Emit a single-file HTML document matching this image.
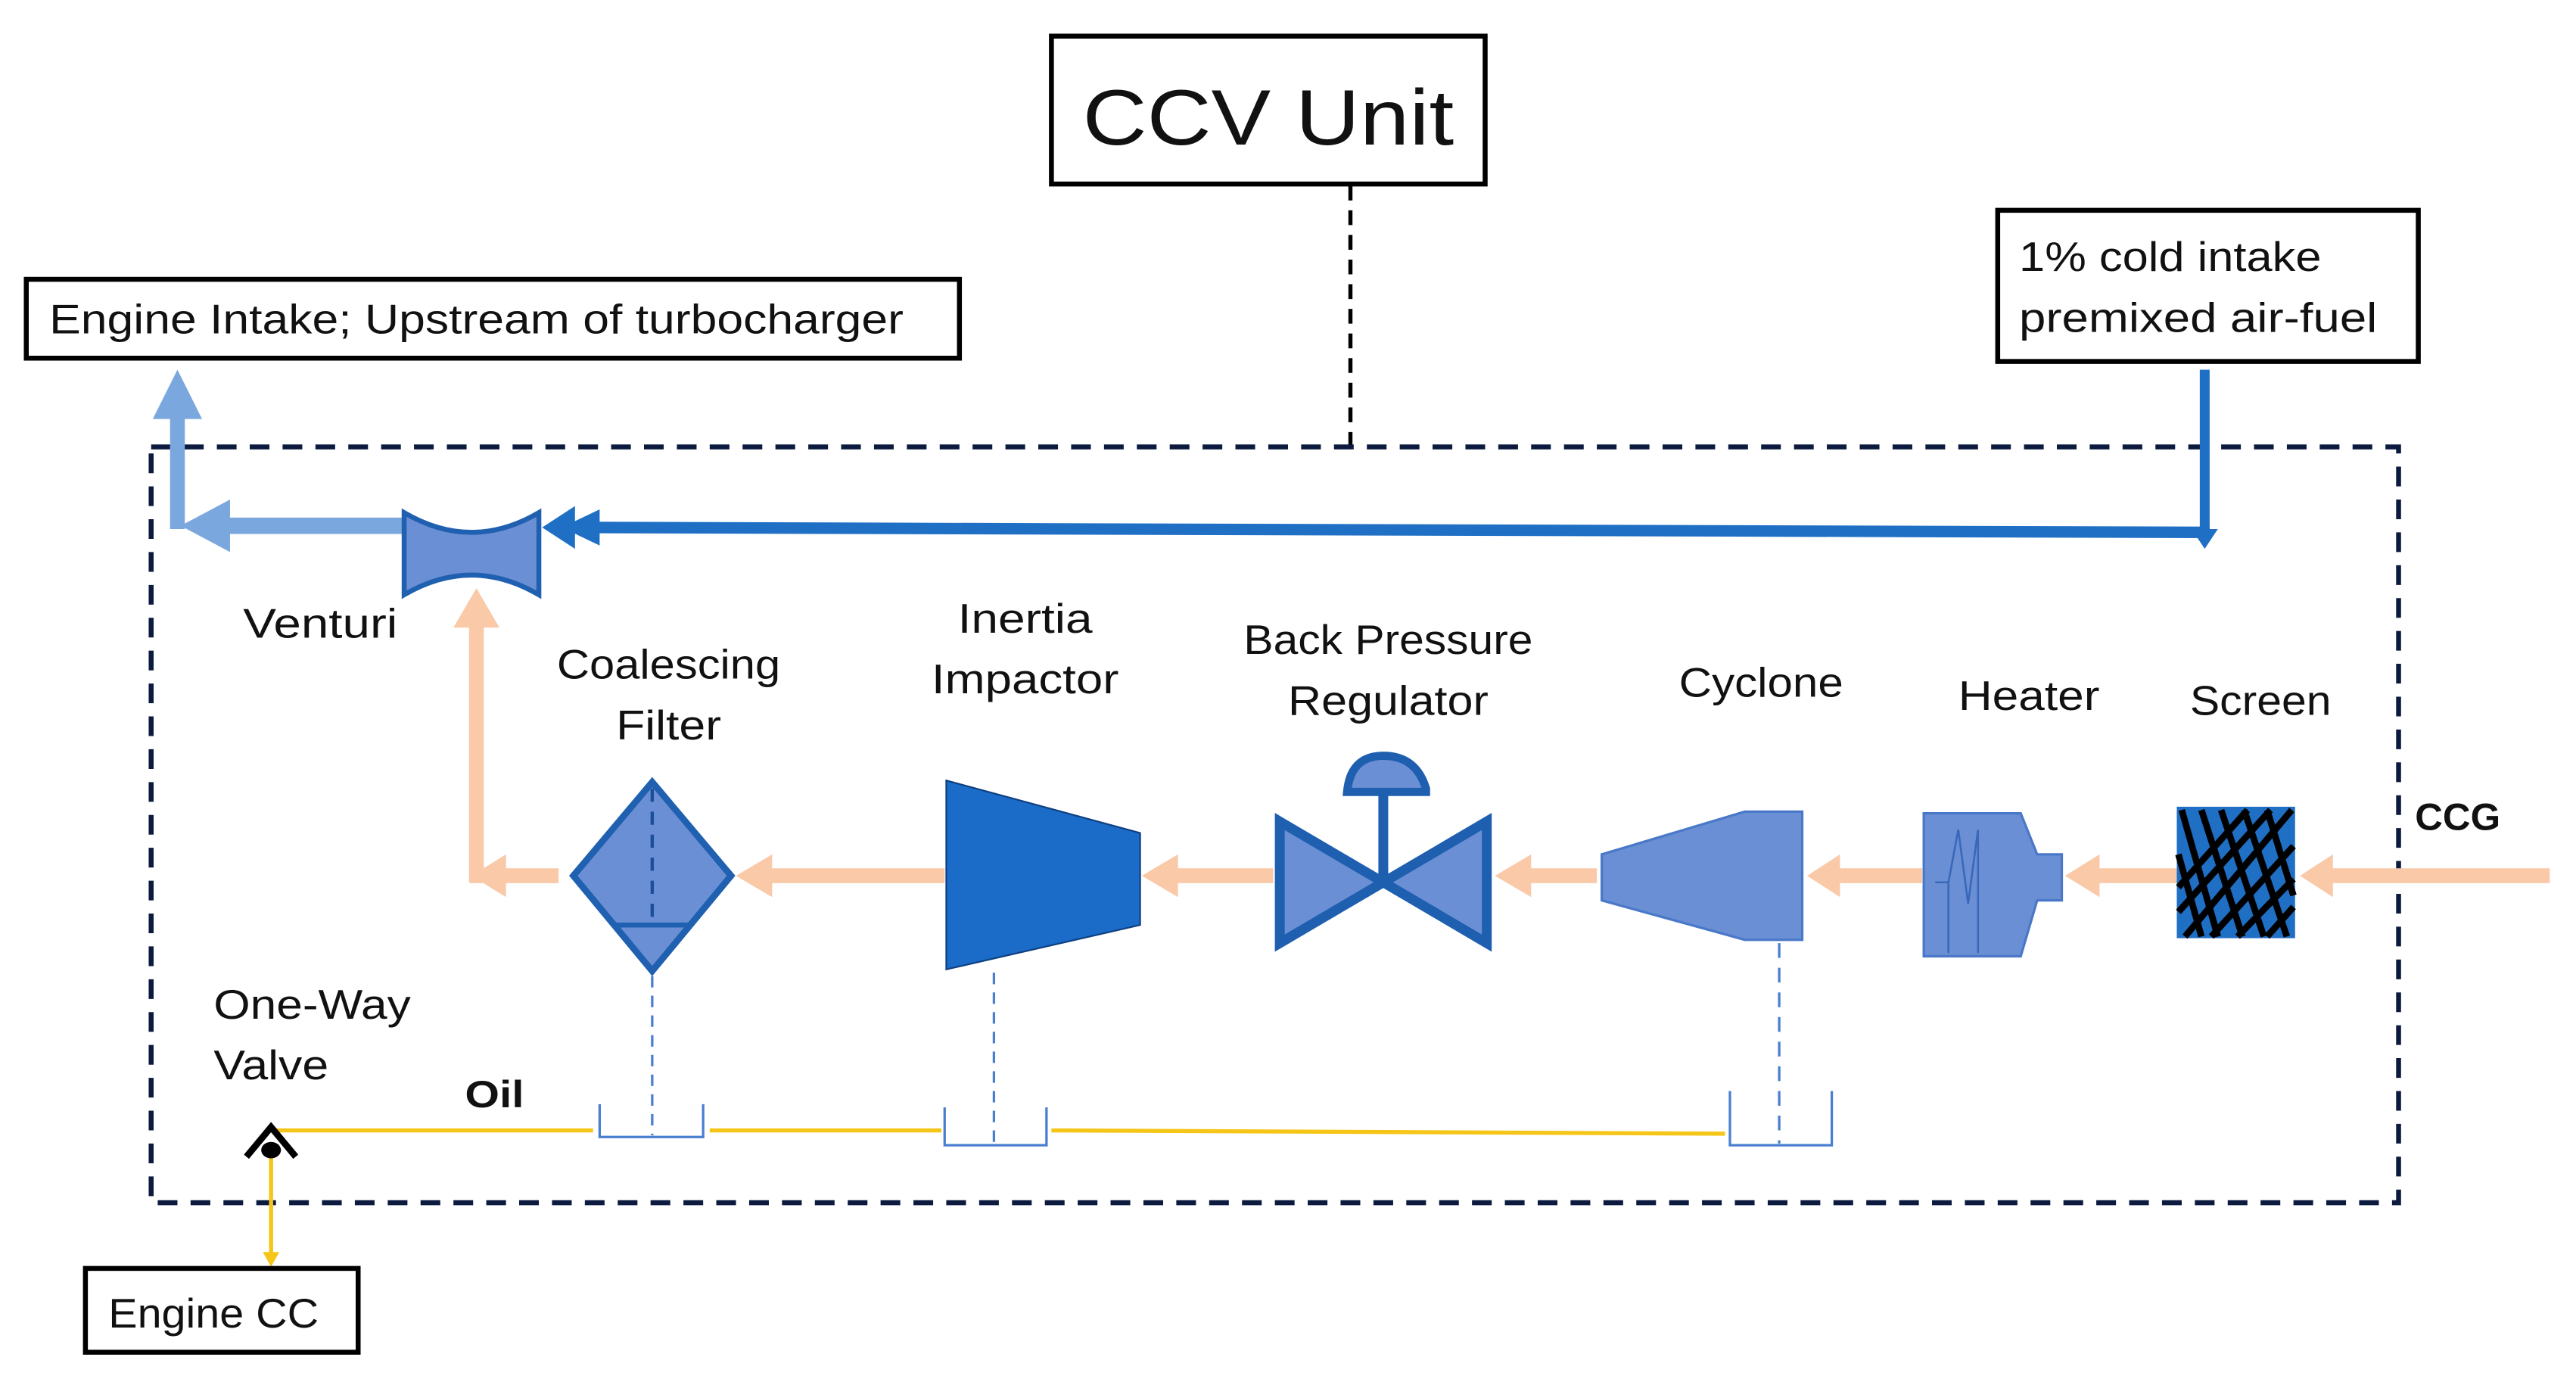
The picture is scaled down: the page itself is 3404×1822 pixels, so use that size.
<!DOCTYPE html>
<html><head><meta charset="utf-8"><style>
html,body{margin:0;padding:0;background:#fff}
svg{display:block}
text{font-family:"Liberation Sans",sans-serif;fill:#111}
</style></head><body>
<svg width="3404" height="1822" viewBox="0 0 1568 839.3" preserveAspectRatio="none" xmlns="http://www.w3.org/2000/svg">
<rect x="0" y="0" width="1568" height="840" fill="#fff"/>
<!-- CCV box -->
<rect x="640" y="22" width="264" height="90" fill="#fff" stroke="#000" stroke-width="3"/>
<text x="772" y="88" font-size="48" text-anchor="middle" textLength="226" lengthAdjust="spacingAndGlyphs">CCV Unit</text>
<line x1="822" y1="113" x2="822" y2="272" stroke="#000" stroke-width="2.5" stroke-dasharray="9,6"/>
<!-- dashed frame -->
<rect x="92" y="272" width="1368" height="460" fill="none" stroke="#0b1a3e" stroke-width="3" stroke-dasharray="12,8"/>
<!-- Engine intake box -->
<rect x="16" y="170" width="568" height="48" fill="#fff" stroke="#000" stroke-width="3"/>
<text x="30" y="203" font-size="25" textLength="520" lengthAdjust="spacingAndGlyphs">Engine Intake; Upstream of turbocharger</text>
<!-- 1% box -->
<rect x="1216" y="128" width="256" height="92" fill="#fff" stroke="#000" stroke-width="3"/>
<text x="1229" y="165" font-size="25" textLength="184" lengthAdjust="spacingAndGlyphs">1% cold intake</text>
<text x="1229" y="202" font-size="25" textLength="218" lengthAdjust="spacingAndGlyphs">premixed air-fuel</text>
<!-- blue intake line -->
<line x1="1342" y1="225" x2="1342" y2="326" stroke="#1f6fc5" stroke-width="6"/>
<polygon points="1334,322 1350,322 1342,334" fill="#1f6fc5"/>
<line x1="1345" y1="324" x2="345" y2="321" stroke="#1f6fc5" stroke-width="7"/>
<polygon points="330,321 350,308 350,334" fill="#1f6fc5"/>
<polygon points="342,321 365,310 365,332" fill="#1f6fc5"/>
<!-- light blue out -->
<line x1="248" y1="320" x2="130" y2="320" stroke="#7ba7df" stroke-width="10"/>
<polygon points="110,320 140,304 140,336" fill="#7ba7df"/>
<line x1="108" y1="322" x2="108" y2="248" stroke="#7ba7df" stroke-width="9"/>
<polygon points="108,225 93,255 123,255" fill="#7ba7df"/>
<!-- venturi -->
<path d="M246,312 Q287,336 328,312 L328,362 Q287,338 246,362 Z" fill="#6a8fd4" stroke="#2060b0" stroke-width="3"/>
<text x="148" y="388" font-size="25" textLength="94" lengthAdjust="spacingAndGlyphs">Venturi</text>
<!-- peach flow -->
<g stroke="#f9c9a8" stroke-width="9" fill="none">
<line x1="290" y1="537" x2="290" y2="378"/>
<line x1="286" y1="533" x2="340" y2="533"/>
<line x1="575" y1="533" x2="465" y2="533"/>
<line x1="775" y1="533" x2="712" y2="533"/>
<line x1="972" y1="533" x2="927" y2="533"/>
<line x1="1170" y1="533" x2="1115" y2="533"/>
<line x1="1325" y1="533" x2="1275" y2="533"/>
<line x1="1552" y1="533" x2="1415" y2="533"/>
</g>
<g fill="#f9c9a8">
<polygon points="290,358 276,382 304,382"/>
<polygon points="287,533 308,520 308,546"/>
<polygon points="448,533 470,520 470,546"/>
<polygon points="695,533 717,520 717,546"/>
<polygon points="910,533 932,520 932,546"/>
<polygon points="1100,533 1120,520 1120,546"/>
<polygon points="1257,533 1278,520 1278,546"/>
<polygon points="1400,533 1420,520 1420,546"/>
</g>
<!-- coalescing filter -->
<polygon points="397,476 445,533 397,591 349,533" fill="#6a8fd4" stroke="#2060b0" stroke-width="4"/>
<line x1="373" y1="563" x2="421" y2="563" stroke="#2060b0" stroke-width="3"/>
<line x1="397" y1="480" x2="397" y2="560" stroke="#1c4f9a" stroke-width="2" stroke-dasharray="8,6"/>
<text x="407" y="413" font-size="25" text-anchor="middle" textLength="136" lengthAdjust="spacingAndGlyphs">Coalescing</text>
<text x="407" y="450" font-size="25" text-anchor="middle" textLength="64" lengthAdjust="spacingAndGlyphs">Filter</text>
<!-- inertia impactor -->
<polygon points="576,475 694,507 694,563 576,590" fill="#1a6cc8" stroke="#0f3f80" stroke-width="1"/>
<text x="624" y="385" font-size="25" text-anchor="middle" textLength="82" lengthAdjust="spacingAndGlyphs">Inertia</text>
<text x="624" y="422" font-size="25" text-anchor="middle" textLength="114" lengthAdjust="spacingAndGlyphs">Impactor</text>
<!-- back pressure regulator -->
<polygon points="779,500 905,574 905,500 779,574" fill="#6a8fd4" stroke="#1f5fb0" stroke-width="6" stroke-linejoin="miter"/>
<line x1="842" y1="537" x2="842" y2="480" stroke="#1f5fb0" stroke-width="6"/>
<path d="M820,482 Q822,460 842,460 Q862,460 868,480 L868,482 Z" fill="#6a8fd4" stroke="#1f5fb0" stroke-width="5"/>
<text x="845" y="398" font-size="25" text-anchor="middle" textLength="176" lengthAdjust="spacingAndGlyphs">Back Pressure</text>
<text x="845" y="435" font-size="25" text-anchor="middle" textLength="122" lengthAdjust="spacingAndGlyphs">Regulator</text>
<!-- cyclone -->
<polygon points="975,520 1062,494 1097,494 1097,572 1062,572 975,548" fill="#6a8fd4" stroke="#4a78c8" stroke-width="1.5"/>
<text x="1072" y="424" font-size="25" text-anchor="middle" textLength="100" lengthAdjust="spacingAndGlyphs">Cyclone</text>
<!-- heater -->
<polygon points="1171,495 1230,495 1240,520 1255,520 1255,548 1240,548 1230,582 1171,582" fill="#6a8fd4" stroke="#4a78c8" stroke-width="1.5"/>
<path d="M1178,537 L1186,537 M1186,580 L1186,537 L1192,505 L1198,550 L1204,505 L1204,580" stroke="#3a68b8" stroke-width="1.2" fill="none"/>
<text x="1235" y="432" font-size="25" text-anchor="middle" textLength="86" lengthAdjust="spacingAndGlyphs">Heater</text>
<!-- screen -->
<rect x="1325" y="491" width="72" height="80" fill="#1f6fc5"/>
<g stroke="#000" stroke-width="4">
<line x1="1328" y1="493" x2="1350" y2="570"/><line x1="1340" y1="493" x2="1365" y2="570"/>
<line x1="1352" y1="493" x2="1378" y2="570"/><line x1="1366" y1="493" x2="1392" y2="570"/>
<line x1="1380" y1="493" x2="1396" y2="545"/><line x1="1326" y1="520" x2="1340" y2="570"/>
<line x1="1395" y1="493" x2="1330" y2="570"/><line x1="1382" y1="493" x2="1326" y2="555"/>
<line x1="1368" y1="493" x2="1326" y2="540"/><line x1="1396" y1="515" x2="1346" y2="570"/>
<line x1="1396" y1="535" x2="1362" y2="570"/><line x1="1396" y1="552" x2="1380" y2="570"/>
</g>
<text x="1376" y="435" font-size="25" text-anchor="middle" textLength="86" lengthAdjust="spacingAndGlyphs">Screen</text>
<text x="1470" y="505" font-size="23" font-weight="bold" textLength="52" lengthAdjust="spacingAndGlyphs">CCG</text>
<!-- drains -->
<g stroke="#4a7fd0" stroke-width="1.5" fill="none">
<line x1="397" y1="594" x2="397" y2="691" stroke-dasharray="7,5"/>
<line x1="605" y1="592" x2="605" y2="696" stroke-dasharray="7,5"/>
<line x1="1083" y1="574" x2="1083" y2="696" stroke-dasharray="9,6"/>
<polyline points="365,672 365,692 428,692 428,672"/>
<polyline points="575,674 575,697 637,697 637,674"/>
<polyline points="1053,664 1053,697 1115,697 1115,664"/>
</g>
<!-- oil -->
<g stroke="#f5c518" stroke-width="2.5">
<line x1="168" y1="688" x2="361" y2="688"/>
<line x1="432" y1="688" x2="573" y2="688"/>
<line x1="640" y1="688" x2="1050" y2="690"/>
<line x1="165" y1="700" x2="165" y2="765"/>
</g>
<polygon points="160,762 170,762 165,771" fill="#f5c518"/>
<path d="M150,704 L165,686 L180,704" stroke="#000" stroke-width="4" fill="none"/>
<ellipse cx="165" cy="700" rx="6" ry="5" fill="#000"/>
<text x="283" y="674" font-size="23" font-weight="bold" textLength="36" lengthAdjust="spacingAndGlyphs">Oil</text>
<text x="130" y="620" font-size="25" textLength="120" lengthAdjust="spacingAndGlyphs">One-Way</text>
<text x="130" y="657" font-size="25" textLength="70" lengthAdjust="spacingAndGlyphs">Valve</text>
<!-- engine cc -->
<rect x="52" y="772" width="166" height="51" fill="#fff" stroke="#000" stroke-width="3"/>
<text x="66" y="808" font-size="25" textLength="128" lengthAdjust="spacingAndGlyphs">Engine CC</text>
</svg>
</body></html>
